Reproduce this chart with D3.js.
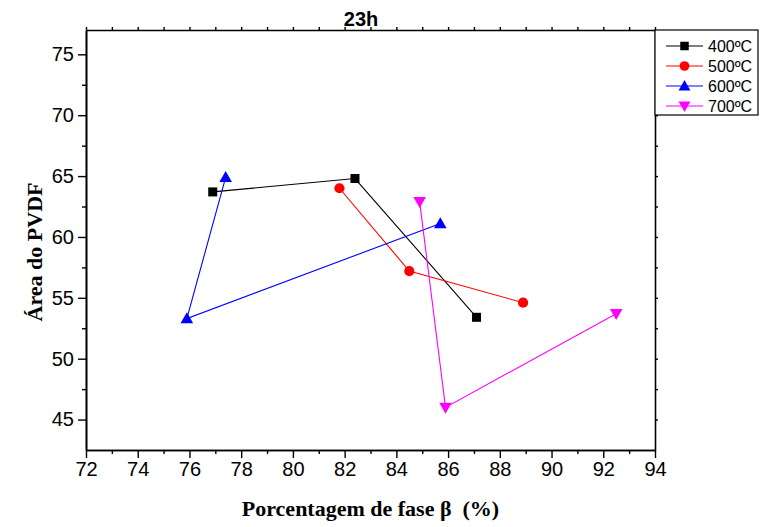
<!DOCTYPE html>
<html>
<head>
<meta charset="utf-8">
<script src="https://cdn.jsdelivr.net/npm/d3@7"></script>
<style>
  html, body { margin: 0; padding: 0; background: #fff; }
  svg { display: block; }
</style>
</head>
<body>
<div id="chart"></div>
<script>
// Series: x = porcentagem de fase β (%), y = área do PVDF
const series = ["400ºC", "500ºC", "600ºC", "700ºC"];
const colors = ["#000000", "#ff0000", "#0000ff", "#ff00ff"];
const symbols = ["square", "circle", "triangle", "triangleDown"];

const x400 = [76.9, 82.4, 87.1];
const y400 = [63.7, 64.8, 53.4];
const x500 = [81.8, 84.5, 88.9];
const y500 = [64.0, 57.2, 54.6];
const x600 = [77.4, 75.9, 85.7];
const y600 = [64.9, 53.3, 61.1];
const x700 = [84.9, 85.9, 92.5];
const y700 = [62.9, 46.0, 53.7];

const xTicks = [72, 74, 76, 78, 80, 82, 84, 86, 88, 90, 92, 94];
const yTicks = [45, 50, 55, 60, 65, 70, 75];

const title = "23h";
const xLabel = "Porcentagem de fase β  (%)";
const yLabel = "Área do PVDF";

const W = 762, H = 527;
const margin = { left: 86, right: 107, top: 30, bottom: 77 };
const iw = W - margin.left - margin.right;
const ih = H - margin.top - margin.bottom;

const svg = d3.select("#chart").append("svg")
  .attr("width", W).attr("height", H);

const x = d3.scaleLinear().domain([72, 94]).range([margin.left, margin.left + iw]);
const y = d3.scaleLinear().domain([42.5, 77]).range([margin.top + ih, margin.top]);

const xMinor = d3.range(72, 94.01, 1).filter(v => xTicks.indexOf(v) < 0);
const yMinor = d3.range(45, 77, 2.5).filter(v => yTicks.indexOf(v) < 0);

const tickFont = "Arial, 'Liberation Sans', sans-serif";

function styleAxis(g) {
  g.selectAll("path.domain").attr("stroke", "#000").attr("stroke-width", 1.6);
  g.selectAll(".tick line").attr("stroke", "#000").attr("stroke-width", 1.4);
  g.selectAll(".tick text").attr("fill", "#000")
    .style("font-family", tickFont).style("font-size", "20px");
}

// bottom axis: labelled majors and minors
svg.append("g").attr("transform", `translate(0,${margin.top + ih})`)
  .call(d3.axisBottom(x).tickValues(xTicks).tickSize(8).tickSizeOuter(0).tickPadding(4)
    .tickFormat(d3.format("d")))
  .call(styleAxis);
svg.append("g").attr("transform", `translate(0,${margin.top + ih})`)
  .call(d3.axisBottom(x).tickValues(xMinor).tickSize(4).tickSizeOuter(0).tickFormat(""))
  .call(styleAxis);

// left axis
svg.append("g").attr("transform", `translate(${margin.left},0)`)
  .call(d3.axisLeft(y).tickValues(yTicks).tickSize(8).tickSizeOuter(0).tickPadding(4)
    .tickFormat(d3.format("d")))
  .call(styleAxis);
svg.append("g").attr("transform", `translate(${margin.left},0)`)
  .call(d3.axisLeft(y).tickValues(yMinor).tickSize(4).tickSizeOuter(0).tickFormat(""))
  .call(styleAxis);

// top and right frame with small unlabelled ticks
svg.append("g").attr("transform", `translate(0,${margin.top})`)
  .call(d3.axisTop(x).tickValues(d3.range(72, 94.01, 1)).tickSize(3).tickSizeOuter(0).tickFormat(""))
  .call(styleAxis);
svg.append("g").attr("transform", `translate(${margin.left + iw},0)`)
  .call(d3.axisRight(y).tickValues(d3.range(45, 77, 2.5)).tickSize(3).tickSizeOuter(0).tickFormat(""))
  .call(styleAxis);

// series
const data = [
  x400.map((v, i) => [v, y400[i]]),
  x500.map((v, i) => [v, y500[i]]),
  x600.map((v, i) => [v, y600[i]]),
  x700.map((v, i) => [v, y700[i]])
];

const line = d3.line().x(d => x(d[0])).y(d => y(d[1]));

function marker(g, kind, color, size) {
  if (kind === "square") {
    g.append("rect").attr("x", -size / 2).attr("y", -size / 2)
      .attr("width", size).attr("height", size).attr("fill", color);
  } else if (kind === "circle") {
    g.append("circle").attr("r", size / 2 + 0.6).attr("fill", color);
  } else if (kind === "triangle") {
    const s = size * 0.7;
    g.append("path").attr("d", `M0,${-s}L${s * 1.0},${s * 0.75}L${-s * 1.0},${s * 0.75}Z`).attr("fill", color);
  } else {
    const s = size * 0.7;
    g.append("path").attr("d", `M0,${s}L${s * 1.0},${-s * 0.75}L${-s * 1.0},${-s * 0.75}Z`).attr("fill", color);
  }
}

data.forEach((pts, si) => {
  svg.append("path").datum(pts).attr("d", line)
    .attr("fill", "none").attr("stroke", colors[si]).attr("stroke-width", 1.1);
  pts.forEach(p => {
    const g = svg.append("g").attr("transform", `translate(${x(p[0])},${y(p[1])})`);
    marker(g, symbols[si], colors[si], 9);
  });
});

// title
svg.append("text").attr("x", 361).attr("y", 26)
  .attr("text-anchor", "middle")
  .style("font-family", tickFont).style("font-weight", "bold").style("font-size", "20px")
  .text(title);

// axis titles
const serif = "'Times New Roman', 'Liberation Serif', serif";
svg.append("text").attr("x", margin.left + iw / 2).attr("y", 516)
  .attr("text-anchor", "middle")
  .style("font-family", serif).style("font-weight", "bold").style("font-size", "22px")
  .style("white-space", "pre")
  .text(xLabel);
svg.append("text")
  .attr("transform", `translate(42,252) rotate(-90)`)
  .attr("text-anchor", "middle")
  .style("font-family", serif).style("font-weight", "bold").style("font-size", "22px")
  .text(yLabel);

// legend
const lg = svg.append("g");
lg.append("rect").attr("x", 655).attr("y", 30).attr("width", 103).attr("height", 85)
  .attr("fill", "#fff").attr("stroke", "#000").attr("stroke-width", 1.2);
series.forEach((name, i) => {
  const cy = 46 + i * 20;
  lg.append("line").attr("x1", 666).attr("x2", 703).attr("y1", cy).attr("y2", cy)
    .attr("stroke", colors[i]).attr("stroke-width", 1.1);
  const g = lg.append("g").attr("transform", `translate(684.5,${cy})`);
  marker(g, symbols[i], colors[i], 8.5);
  lg.append("text").attr("x", 708).attr("y", cy + 6)
    .style("font-family", tickFont).style("font-size", "16px")
    .text(name);
});
</script>
</body>
</html>
